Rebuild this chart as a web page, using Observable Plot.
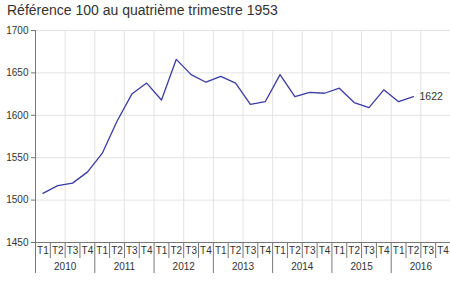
<!DOCTYPE html>
<html>
<head>
<meta charset="utf-8">
<script src="https://cdn.jsdelivr.net/npm/d3@7"></script>
<script src="https://cdn.jsdelivr.net/npm/@observablehq/plot@0.6"></script>
<style>
  body { margin: 0; background: #fff; font-family: "Liberation Sans", Arial, sans-serif; }
  #title { height: 20px; font-size: 14px; color: #333; padding-left: 7px; line-height: 20px; white-space: nowrap; }
  svg { display: block; }
</style>
</head>
<body>
<div id="title">Référence 100 au quatrième trimestre 1953</div>
<div id="chart"></div>
<script>
const years = ["2010", "2011", "2012", "2013", "2014", "2015", "2016"];
const quarterLabels = ["T1", "T2", "T3", "T4"];
const values = [
  1508, 1517, 1520, 1533,
  1555, 1593, 1625, 1638,
  1618, 1666, 1648, 1639,
  1646, 1638, 1613, 1616,
  1648, 1622, 1627, 1626,
  1632, 1615, 1609, 1630,
  1616, 1622
];
const yTicks = [1450, 1500, 1550, 1600, 1650, 1700];

const nSlots = years.length * 4;
const data = values.map((v, i) => ({ x: i + 0.5, y: v }));
const last = data[data.length - 1];

const gridX = d3.range(2, nSlots, 2);
const quarterSeps = d3.range(1, nSlots).filter(i => i % 4 !== 0);
const yearSeps = d3.range(0, nSlots + 1, 4);
const quarterCenters = d3.range(nSlots).map(i => i + 0.5);
const yearCenters = years.map((y, i) => i * 4 + 2);

const axisColor = "#777";
const gridColor = "#e3e3e3";
const fontSize = "10px";

const chart = Plot.plot({
  width: 450,
  height: 271,
  marginLeft: 35,
  marginRight: 0,
  marginTop: 10,
  marginBottom: 49,
  style: { fontFamily: "Liberation Sans, Arial, sans-serif", fontSize, color: "#333", background: "#fff" },
  x: { domain: [0, nSlots], axis: null },
  y: { domain: [1450, 1700], axis: null },
  marks: [
    Plot.ruleY(yTicks.slice(1), { stroke: gridColor, strokeWidth: 1 }),
    Plot.ruleX(gridX, { stroke: gridColor, strokeWidth: 1 }),
    Plot.axisY(yTicks, { tickSize: 4, tickPadding: 3, tickFormat: d => String(d), stroke: axisColor, fill: "#333", label: null, fontSize }),
    Plot.ruleX([0], { stroke: axisColor }),
    Plot.ruleY([1450], { stroke: axisColor }),
    Plot.axisX(quarterSeps, { tickSize: 16, tickFormat: () => "", stroke: axisColor, label: null }),
    Plot.axisX(yearSeps, { tickSize: 31, tickFormat: () => "", stroke: axisColor, label: null }),
    Plot.axisX(quarterCenters, { tickSize: 0, tickPadding: 4, tickFormat: d => quarterLabels[Math.floor(d) % 4], fill: "#333", label: null, fontSize }),
    Plot.axisX(yearCenters, { tickSize: 0, tickPadding: 20, tickFormat: d => years[Math.floor(d / 4)], fill: "#333", label: null, fontSize }),
    Plot.line(data, { x: "x", y: "y", stroke: "#3b3ba3", strokeWidth: 1.3 }),
    Plot.text([last], { x: "x", y: "y", text: d => String(d.y), dx: 6, textAnchor: "start", fill: "#333", fontSize: "10.5px" })
  ]
});
document.getElementById("chart").appendChild(chart);
</script>
</body>
</html>
